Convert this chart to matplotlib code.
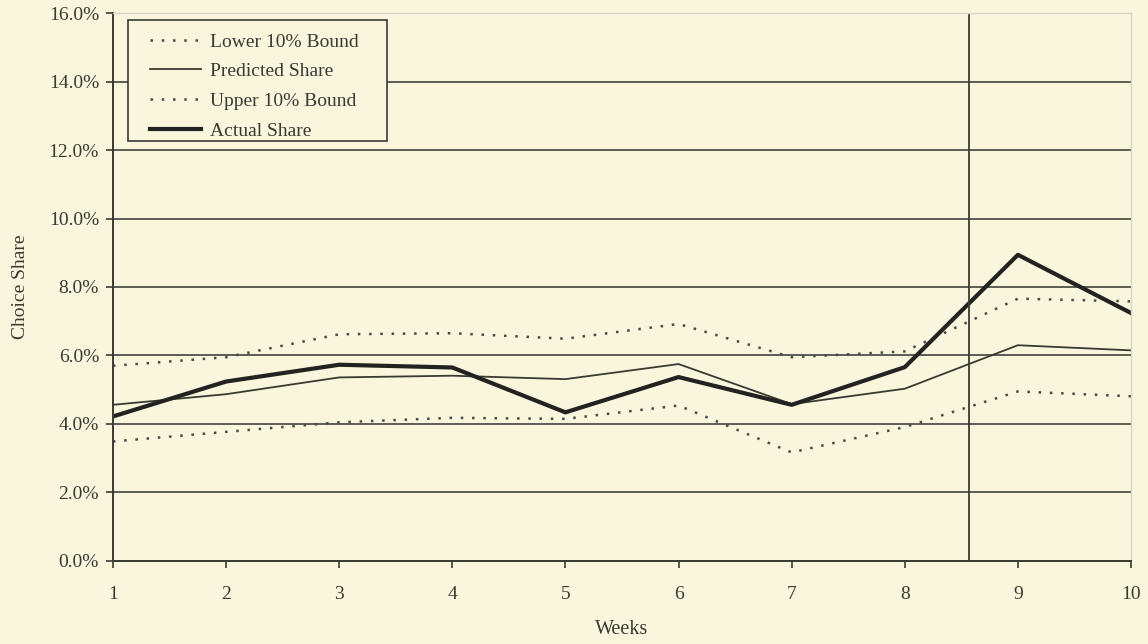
import numpy as np
import matplotlib
matplotlib.use("Agg")
from matplotlib import pyplot as plt
from matplotlib.patches import Rectangle
from matplotlib.ticker import FuncFormatter

# weekly choice share, in percent
weeks = [1, 2, 3, 4, 5, 6, 7, 8, 9, 10]
lower_bound = [3.49, 3.77, 4.05, 4.18, 4.15, 4.54, 3.17, 3.91, 4.95, 4.81]
predicted = [4.56, 4.87, 5.36, 5.41, 5.31, 5.75, 4.58, 5.03, 6.30, 6.15]
upper_bound = [5.70, 5.95, 6.62, 6.65, 6.49, 6.92, 5.95, 6.12, 7.66, 7.58]
actual = [4.22, 5.24, 5.73, 5.65, 4.34, 5.37, 4.56, 5.66, 8.94, 7.24]
split_week = 8.57   # start of the holdout period

bg = '#f9f6dd'
ink = '#3a3a32'
plt.rcParams['font.family'] = ['Liberation Serif', 'DejaVu Serif']

W, H = 1148, 644
fig = plt.figure(figsize=(W / 100, H / 100), dpi=100, facecolor=bg)
ax = fig.add_axes([0.0984, 0.1289, 0.8868, 0.8509], facecolor=bg)

ax.plot(weeks, lower_bound, color='#4a4a42', lw=1.8, ls=(0, (1, 3.5)), label='Lower 10% Bound')
ax.plot(weeks, predicted, color=ink, lw=1.3, label='Predicted Share')
ax.plot(weeks, upper_bound, color='#4a4a42', lw=1.8, ls=(0, (1, 3.5)), label='Upper 10% Bound')
ax.plot(weeks, actual, color='#222220', lw=3.0, label='Actual Share')

ax.axvline(split_week, color=ink, lw=1.3)

ax.set_xlim(1, 10)
ax.set_ylim(0, 16)
ax.set_xticks(weeks)
ax.set_yticks(np.arange(0, 17, 2))
ax.yaxis.set_major_formatter(FuncFormatter(lambda v, p: '{:.1f}%'.format(v)))
ax.yaxis.grid(True, color='#505048', lw=1.3)
ax.set_axisbelow(True)

ax.tick_params(axis='both', colors=ink, labelsize=14, length=5, width=1.2, direction='out')
ax.tick_params(axis='x', pad=13)
ax.tick_params(axis='y', pad=5)
for s in ['left', 'bottom']:
    ax.spines[s].set_color(ink)
    ax.spines[s].set_linewidth(1.4)
for s in ['top', 'right']:
    ax.spines[s].set_color('#d8d6c4')
    ax.spines[s].set_linewidth(1.0)

ax.set_xlabel('Weeks', color=ink, fontsize=14.5, labelpad=12)
ax.set_ylabel('Choice Share', color=ink, fontsize=14, labelpad=14)

# legend box (drawn separately so the padding matches the original)
box = Rectangle((128 / W, 1 - 141 / H), (387 - 128) / W, (141 - 20) / H,
                transform=fig.transFigure, facecolor=bg, edgecolor=ink, lw=1.2,
                zorder=5, clip_on=False)
ax.add_patch(box)

leg = ax.legend(loc='upper left', bbox_to_anchor=(150 / W, 1 - 33 / H),
                bbox_transform=fig.transFigure, fontsize=14, frameon=False,
                handlelength=2.63, handletextpad=0.46, labelspacing=0.62,
                borderpad=0, borderaxespad=0)
leg.set_zorder(6)
for t in leg.get_texts():
    t.set_color(ink)

fig.savefig('out.png', dpi=100, facecolor=bg)
